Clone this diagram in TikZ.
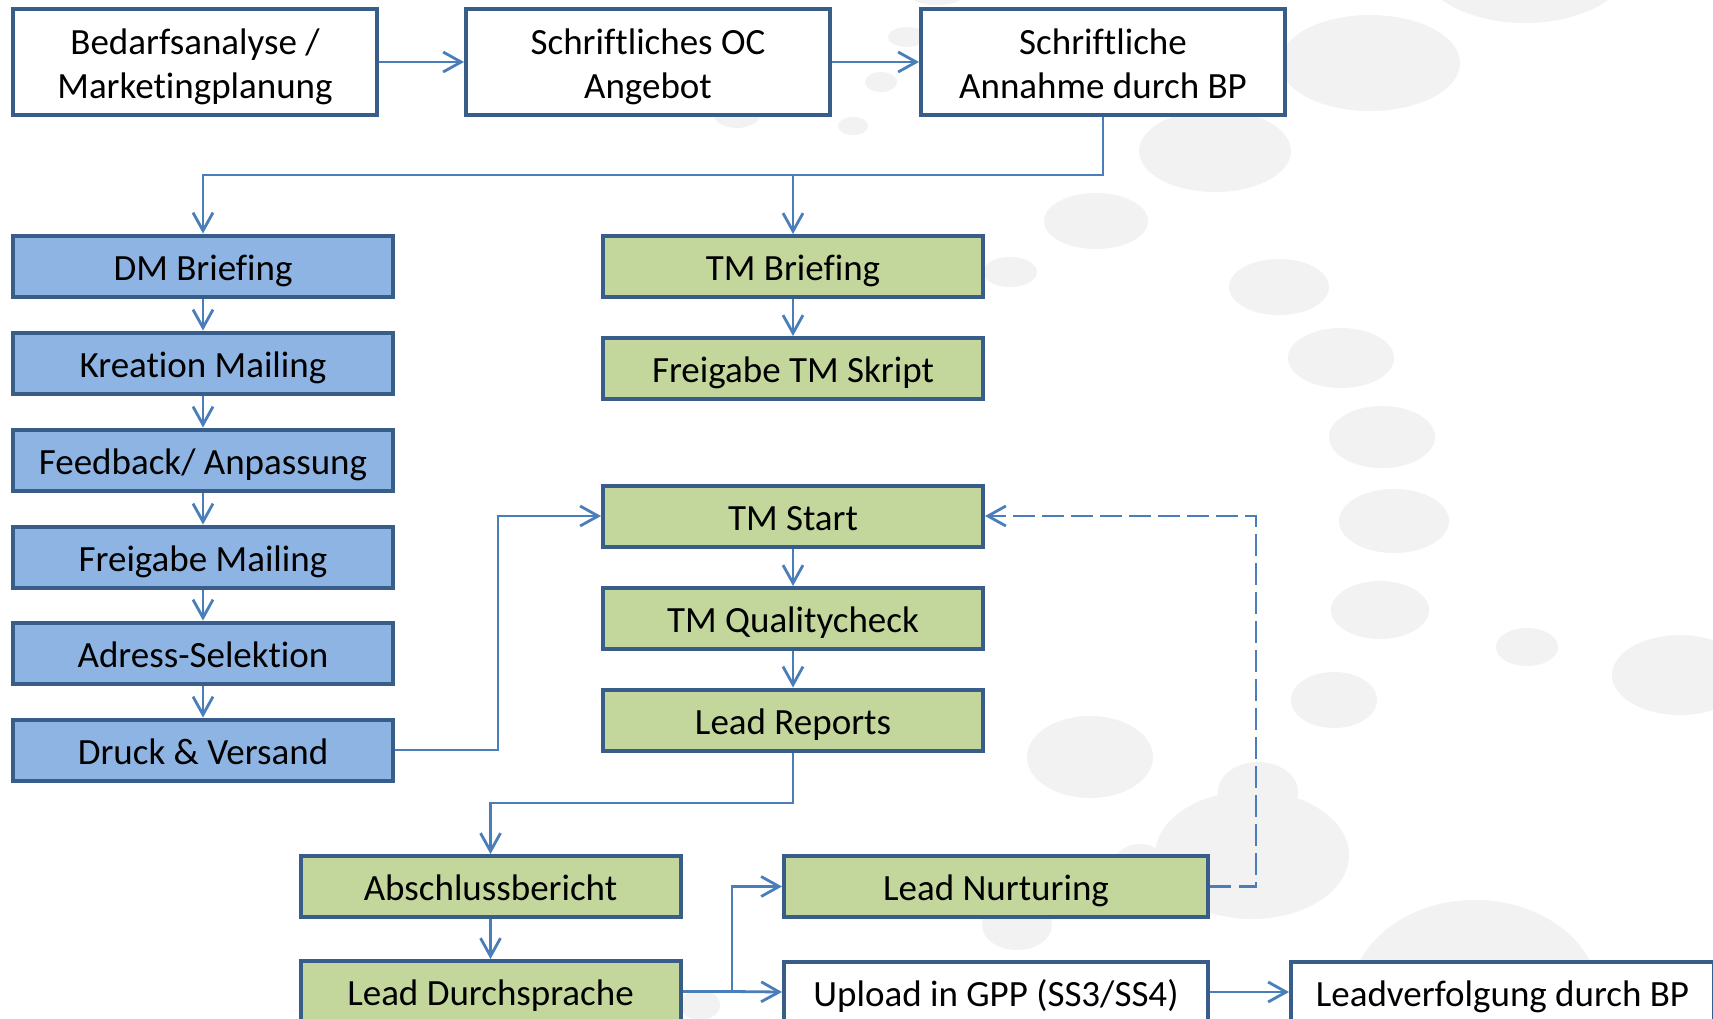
\documentclass[tikz,border=0pt]{standalone}
\usepackage{fontspec}
\setmainfont{Carlito}[Ligatures=NoCommon]
\usetikzlibrary{arrows.meta}

\definecolor{frame}{RGB}{56,93,138}
\definecolor{link}{RGB}{74,126,187}
\definecolor{dmfill}{RGB}{142,180,227}
\definecolor{tmfill}{RGB}{195,214,155}
\definecolor{bubble}{RGB}{242,242,242}

\begin{document}
\begin{tikzpicture}[x=0.5pt,y=-0.5pt,
  every node/.style={font=\fontsize{18.5pt}{22pt}\selectfont},
  basebox/.style={draw=frame, line width=2pt, inner sep=0pt, align=center, minimum height=30.5pt},
  onerow/.style={text height=14pt, text depth=0pt},
  topbox/.style={basebox, fill=white, minimum width=182pt, minimum height=53pt, text height=36pt, text depth=0pt},
  dmbox/.style={basebox, onerow, fill=dmfill, minimum width=190pt},
  tmbox/.style={basebox, onerow, fill=tmfill, minimum width=190pt},
  whitebox/.style={basebox, onerow, fill=white},
  wide/.style={minimum width=212pt},
  conn/.style={draw=link, line width=1.4pt, -{Straight Barb[length=9pt,width=10pt,line width=1.4pt]}},
  loopback/.style={conn, dash pattern=on 10.7pt off 3.8pt}]

\useasboundingbox (0,0) rectangle (1713,1018);
\clip (0,0) rectangle (1713,1018);
\fill[white] (0,0) rectangle (1713,1018);

% light grey bubbles in the background
\foreach \cx/\cy/\rx/\ry in {
  1525/-38/106/61, 1370/63/90/48, 1215/151/76/41, 1096/221/52/28,
  1010/272/27/15, 1279/287/50/28, 1341/358/53/30, 1382/437/53/31,
  1394/521/55/32, 1380/610/49/29, 1527/647/31/19, 1680/675/68/40,
  1334/700/43/28, 1090/757/63/41, 1258/792/40/30, 1252/855/97/64,
  1140/872/30/28, 1017/925/35/25, 1475/1000/125/100, 907/37/19/10,
  881/82/16/10, 853/126/15/9, 737/113/24/15, 700/1005/20/15, 937/-3/25/8}
  \fill[bubble] (\cx,\cy) ellipse [x radius=\rx, y radius=\ry];

% offer phase
\node[topbox] (bedarf)  at (195,62)  {Bedarfsanalyse /\\Marketingplanung};
\node[topbox] (angebot) at (648,62)  {Schriftliches OC\\Angebot};
\node[topbox] (annahme) at (1103,62) {Schriftliche\\Annahme durch BP};

% direct mailing track
\node[dmbox] (dmbrief)  at (203,266) {DM Briefing};
\node[dmbox] (kreation) at (203,363) {Kreation Mailing};
\node[dmbox] (feedback) at (203,460) {Feedback/ Anpassung};
\node[dmbox] (freimail) at (203,557) {Freigabe Mailing};
\node[dmbox] (adresse)  at (203,653) {Adress-Selektion};
\node[dmbox] (druck)    at (203,750) {Druck \& Versand};

% telemarketing track
\node[tmbox] (tmbrief)  at (793,266.5) {TM Briefing};
\node[tmbox] (skript)   at (793,368.5) {Freigabe TM Skript};
\node[tmbox] (tmstart)  at (793,516)   {TM Start};
\node[tmbox] (quality)  at (793,618.5) {TM Qualitycheck};
\node[tmbox] (reports)  at (793,720)   {Lead Reports};

% closing and lead handling
\node[tmbox] (abschluss) at (490.5,886.5) {Abschlussbericht};
\node[tmbox] (durch)     at (490.5,991.5) {Lead Durchsprache};
\node[tmbox, wide] (nurture) at (996,886.5) {Lead Nurturing};
\node[whitebox, wide] (upload) at (996,992) {Upload in GPP (SS3/SS4)};
\node[whitebox, minimum width=211.5pt] (verfolg) at (1502.5,992) {Leadverfolgung durch BP};

% bend points
\coordinate (bus)   at (0,175);
\coordinate (jdruck) at (498,516);
\coordinate (jrep)  at (490.5,803);
\coordinate (jlead) at (732,991.5);
\coordinate (jback) at (1256,886.5);

% connectors
\draw[conn] (bedarf) -- (angebot);
\draw[conn] (angebot) -- (annahme);
\draw[conn] (annahme.south) -- (annahme.south |- bus) -| (dmbrief.north);
\draw[conn] (tmbrief.north |- bus) -- (tmbrief.north);

\draw[conn] (dmbrief) -- (kreation);
\draw[conn] (kreation) -- (feedback);
\draw[conn] (feedback) -- (freimail);
\draw[conn] (freimail) -- (adresse);
\draw[conn] (adresse) -- (druck);
\draw[conn] (druck.east) -| (jdruck) -- (tmstart.west);

\draw[conn] (tmbrief) -- (skript);
\draw[conn] (tmstart) -- (quality);
\draw[conn] (quality) -- (reports);
\draw[conn] (reports.south) |- (jrep) -- (abschluss.north);

\draw[conn] (abschluss) -- (durch);
\draw[conn] (durch.east) -- (jlead) |- (nurture.west);
\draw[conn] (jlead) -- (upload.west);
\draw[conn] (upload) -- (verfolg);
\draw[loopback] (nurture.east) -- (jback) |- (tmstart.east);
\end{tikzpicture}
\end{document}
